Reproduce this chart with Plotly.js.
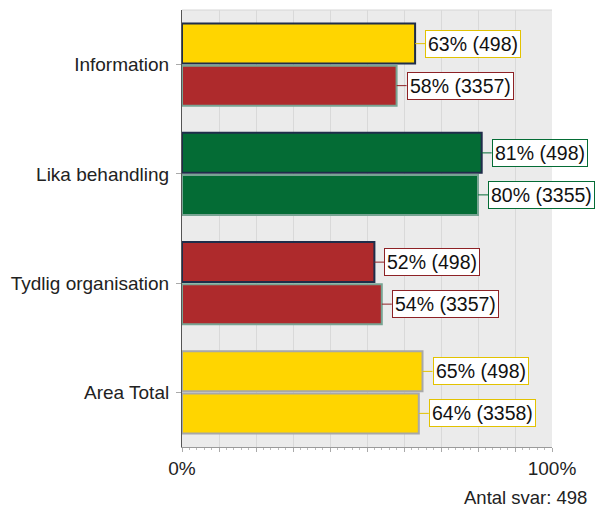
<!DOCTYPE html>
<html>
<head>
<meta charset="utf-8">
<script src="https://cdn.plot.ly/plotly-3.0.1.min.js"></script>
<style>
  html, body { margin: 0; padding: 0; background: #ffffff; }
  #chart { width: 600px; height: 515px; }
</style>
</head>
<body>
<div id="chart"></div>
<script>
  const categories = ["Information", "Lika behandling", "Tydlig organisation", "Area Total"];

  // unit (498 svar) and comparison group
  const unitValues = [63, 81, 52, 65];
  const unitCounts = [498, 498, 498, 498];
  const refValues = [58, 80, 54, 64];
  const refCounts = [3357, 3355, 3357, 3358];

  const unitFill = ["#FFD500", "#046C35", "#AE2A2C", "#FFD500"];
  const refFill = ["#AE2A2C", "#046C35", "#AE2A2C", "#FFD500"];
  const unitEdge = ["#1F2D4A", "#1F2D4A", "#1F2D4A", "#A8A8A8"];
  const refEdge = ["#78A493", "#78A493", "#78A493", "#A8A8A8"];

  const xTicks = [0, 10, 20, 30, 40, 50, 60, 70, 80, 90, 100];
  const xTickText = ["0%", "", "", "", "", "", "", "", "", "", "100%"];

  const boxColor = (fill) => {
    if (fill === "#FFD500") return "#E2C200";
    if (fill === "#046C35") return "#046C35";
    return "#8E2226";
  };

  const font = "Liberation Sans, Arial, sans-serif";

  const traces = [
    {
      type: "bar",
      orientation: "h",
      name: "498",
      y: categories,
      x: unitValues,
      marker: { color: unitFill, line: { color: unitEdge, width: 2 } },
      hoverinfo: "skip",
    },
    {
      type: "bar",
      orientation: "h",
      name: "jämförelse",
      y: categories,
      x: refValues,
      marker: { color: refFill, line: { color: refEdge, width: 2 } },
      hoverinfo: "skip",
    },
  ];

  const mkLabel = (cat, v, n, fill, shift) => ({
    x: v,
    y: cat,
    xref: "x",
    yref: "y",
    text: `${v}% (${n})`,
    showarrow: true,
    arrowhead: 0,
    arrowwidth: 1,
    arrowcolor: boxColor(fill),
    ax: 10,
    ay: 0,
    standoff: 0,
    xanchor: "left",
    yshift: shift,
    bgcolor: "#ffffff",
    bordercolor: boxColor(fill),
    borderwidth: 1,
    borderpad: 2,
    font: { family: font, size: 19.5, color: "#111111" },
  });

  const annotations = [];
  categories.forEach((c, i) => {
    annotations.push(mkLabel(c, unitValues[i], unitCounts[i], unitFill[i], 21));
    annotations.push(mkLabel(c, refValues[i], refCounts[i], refFill[i], -21));
  });
  annotations.push({
    xref: "paper",
    yref: "paper",
    x: 1.1,
    y: -0.116,
    xanchor: "right",
    yanchor: "middle",
    showarrow: false,
    text: "Antal svar: 498",
    font: { family: font, size: 18.5, color: "#222222" },
  });

  const layout = {
    width: 600,
    height: 515,
    margin: { l: 182, r: 48, t: 10, b: 68 },
    paper_bgcolor: "#ffffff",
    plot_bgcolor: "#EBEBEB",
    showlegend: false,
    barmode: "group",
    bargap: 0.23,
    bargroupgap: 0.05,
    font: { family: font, size: 18, color: "#222222" },
    xaxis: {
      range: [0, 100],
      tickvals: xTicks,
      ticktext: xTickText,
      showgrid: true,
      gridcolor: "#D9D9D9",
      gridwidth: 1,
      zeroline: false,
      showline: true,
      linecolor: "#9A9A9A",
      ticks: "outside",
      ticklen: 4,
      tickcolor: "#AAAAAA",
      ticklabelstandoff: 0,
      minor: { dtick: 2, ticks: "outside", ticklen: 2, tickcolor: "#BBBBBB", showgrid: false },
      tickfont: { family: font, size: 19, color: "#222222" },
      fixedrange: true,
    },
    yaxis: {
      autorange: "reversed",
      showgrid: false,
      zeroline: false,
      showline: true,
      linecolor: "#555555",
      ticks: "outside",
      ticklen: 5,
      tickcolor: "#AAAAAA",
      ticklabelstandoff: 3,
      tickfont: { family: font, size: 19, color: "#222222" },
      fixedrange: true,
    },
    shapes: [
      {
        type: "line",
        xref: "paper",
        yref: "paper",
        x0: 0,
        x1: 1,
        y0: 1,
        y1: 1,
        line: { color: "#D6D6D6", width: 1 },
        layer: "below",
      },
    ],
    annotations,
  };

  Plotly.newPlot("chart", traces, layout, { displayModeBar: false, staticPlot: true });
</script>
</body>
</html>
